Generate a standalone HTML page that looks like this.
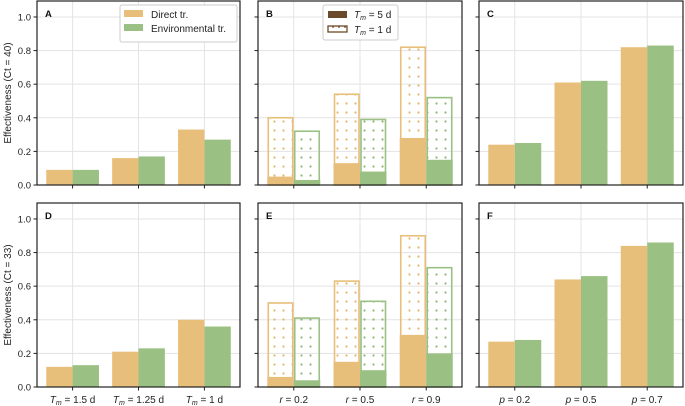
<!DOCTYPE html>
<html><head><meta charset="utf-8">
<style>
html,body{margin:0;padding:0;background:#fff;}
svg{display:block;font-family:"Liberation Sans","DejaVu Sans",sans-serif;}
</style></head>
<body>
<svg id="fig" width="685" height="406" viewBox="0 0 685 406" xmlns="http://www.w3.org/2000/svg">
<defs>
<pattern id="dotO" width="9" height="9" patternUnits="userSpaceOnUse"><circle cx="4.5" cy="4.5" r="1.1" fill="#e3b56a"/></pattern>
<pattern id="dotG" width="9" height="9" patternUnits="userSpaceOnUse"><circle cx="4.5" cy="4.5" r="1.1" fill="#8db676"/></pattern>
<pattern id="dotB" width="6" height="6" patternUnits="userSpaceOnUse"><circle cx="3" cy="3" r="0.9" fill="#6b4a2a"/></pattern>
</defs>
</svg>
<script>
const cats = ["0","1","2"];
const xlabRow2 = [["Tm1.5","Tm1.25","Tm1"],["r = 0.2","r = 0.5","r = 0.9"],["p = 0.2","p = 0.5","p = 0.7"]];
const yTicks = [0,0.2,0.4,0.6,0.8,1.0];
const aDirect=[0.09,0.16,0.33], aEnv=[0.09,0.17,0.27];
const bDirectSolid=[0.05,0.13,0.28], bEnvSolid=[0.03,0.08,0.15];
const bDirectHatch=[0.40,0.54,0.82], bEnvHatch=[0.32,0.39,0.52];
const cDirect=[0.24,0.61,0.82], cEnv=[0.25,0.62,0.83];
const dDirect=[0.12,0.21,0.40], dEnv=[0.13,0.23,0.36];
const eDirectSolid=[0.06,0.15,0.31], eEnvSolid=[0.04,0.10,0.20];
const eDirectHatch=[0.50,0.63,0.90], eEnvHatch=[0.41,0.51,0.71];
const fDirect=[0.27,0.64,0.84], fEnv=[0.28,0.66,0.86];

const NS="http://www.w3.org/2000/svg";
const svg=document.getElementById('fig');
function mk(tag,at,parent){const e=document.createElementNS(NS,tag);for(const k in at)e.setAttribute(k,at[k]);(parent||svg).appendChild(e);return e;}
const OR="#e8bf7a", GR="#9bc084";
const colsX=[[37,240],[258,462],[479,683]];
const rowsY=[[1,185],[203,387]];
const YMAX=1.095;
function panel(ci,ri,letter,kind,d1,d2,h1,h2){
  const [x0,x1]=colsX[ci],[y0,y1]=rowsY[ri];
  const g=mk('g',{});
  
  
  const unit=(x1-x0)/3.08;
  const xs=i=>x0+(0.54+i)*unit;
  const ys=v=>y1-(v/YMAX)*(y1-y0);
  // grid
  yTicks.forEach(t=>{mk('line',{x1:x0,x2:x1,y1:ys(t),y2:ys(t),stroke:'#e3e3e3','stroke-width':1},g);});
  cats.forEach((c,i)=>{mk('line',{x1:xs(i),x2:xs(i),y1:y0,y2:y1,stroke:'#e3e3e3','stroke-width':1},g);});
  const bw=unit*0.4;
  cats.forEach((c,i)=>{
    if(kind==='hatch'){
      [[h1,'url(#dotO)',OR,-1],[h2,'url(#dotG)',GR,0]].forEach(([arr,pat,col,off])=>{
        const r=mk('rect',{x:xs(i)+off*bw+1,y:ys(arr[i]),width:bw-2,height:ys(0)-ys(arr[i]),fill:pat,stroke:col,'stroke-width':1.6},g);
        
        
      });
    }
    [[d1,OR,-1],[d2,GR,0]].forEach(([arr,col,off])=>{
      const r=mk('rect',{x:xs(i)+off*bw,y:ys(arr[i]),width:bw,height:ys(0)-ys(arr[i]),fill:col},g);
      
      
    });
  });
  mk('rect',{x:x0,y:y0,width:x1-x0,height:y1-y0,fill:'none',stroke:'#222','stroke-width':1.2},g);
  yTicks.forEach(t=>{
    mk('line',{x1:x0-3.5,x2:x0,y1:ys(t),y2:ys(t),stroke:'#222'},g);
    if(ci===0){const tx=mk('text',{x:x0-6,y:ys(t)+3.5,'text-anchor':'end','font-size':9.5,fill:'#222'},g);tx.textContent=t.toFixed(1);
      }
  });
  cats.forEach((c,i)=>{
    mk('line',{x1:xs(i),x2:xs(i),y1:y1,y2:y1+3.5,stroke:'#222'},g);
    if(ri===1){
      const lab=xlabRow2[ci][i];
      const tx=mk('text',{x:xs(i),y:y1+16,'text-anchor':'middle','font-size':10,fill:'#222'},g);
      
      if(lab.startsWith('Tm')){tx.innerHTML='<tspan font-style="italic">T</tspan><tspan font-style="italic" font-size="7" dy="2">m</tspan><tspan dy="-2"> = '+lab.slice(2)+' d</tspan>';}
      else{tx.innerHTML='<tspan font-style="italic">'+lab[0]+'</tspan> = '+lab.slice(4);}
    }
  });
  const L=mk('text',{x:x0+8,y:y0+16,'font-size':9.5,'font-weight':'bold',fill:'#111'},g);L.textContent=letter;
  
}
panel(0,0,'A','plain',aDirect,aEnv);
panel(1,0,'B','hatch',bDirectSolid,bEnvSolid,bDirectHatch,bEnvHatch);
panel(2,0,'C','plain',cDirect,cEnv);
panel(0,1,'D','plain',dDirect,dEnv);
panel(1,1,'E','hatch',eDirectSolid,eEnvSolid,eDirectHatch,eEnvHatch);
panel(2,1,'F','plain',fDirect,fEnv);
// y titles
[[93,'Effectiveness (Ct = 40)'],[295,'Effectiveness (Ct = 33)']].forEach(([cy,t])=>{
  const tx=mk('text',{x:0,y:0,transform:`translate(11,${cy}) rotate(-90)`,'text-anchor':'middle','font-size':10,fill:'#222'});
  tx.textContent=t;
});
// legend A
const lg=mk('g',{});

mk('rect',{x:120,y:5,width:117,height:37,rx:2,fill:'#fff',stroke:'#ccc'},lg);
mk('rect',{x:124,y:10,width:19,height:7,fill:OR},lg);
mk('rect',{x:124,y:24,width:19,height:7,fill:GR},lg);
let t=mk('text',{x:151,y:18,'font-size':10,fill:'#222'},lg);t.textContent='Direct tr.';
t=mk('text',{x:151,y:32,'font-size':10,fill:'#222'},lg);t.textContent='Environmental tr.';
// legend B
const lb=mk('g',{});

mk('rect',{x:323,y:5,width:75,height:35,rx:2,fill:'#fff',stroke:'#ccc'},lb);
mk('rect',{x:328,y:11,width:19,height:7,fill:'#6b4a2a'},lb);
mk('rect',{x:328,y:26,width:19,height:6,fill:'url(#dotB)',stroke:'#6b4a2a','stroke-width':1.3},lb);
t=mk('text',{x:354,y:18,'font-size':10,fill:'#222'},lb);t.innerHTML='<tspan font-style="italic">T</tspan><tspan font-style="italic" font-size="7" dy="2">m</tspan><tspan dy="-2"> = 5 d</tspan>';
t=mk('text',{x:354,y:33,'font-size':10,fill:'#222'},lb);t.innerHTML='<tspan font-style="italic">T</tspan><tspan font-style="italic" font-size="7" dy="2">m</tspan><tspan dy="-2"> = 1 d</tspan>';
</script>
</body></html>
